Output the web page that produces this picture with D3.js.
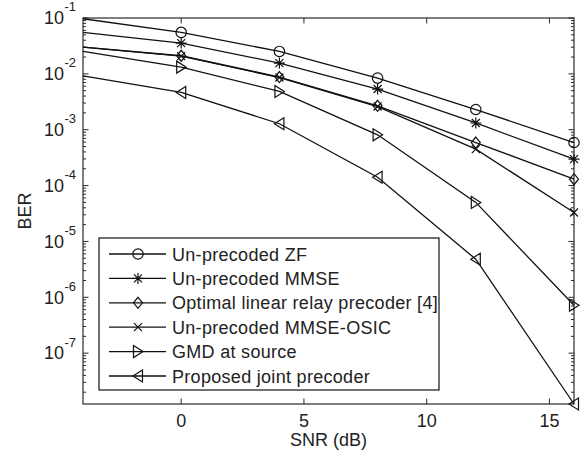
<!DOCTYPE html>
<html><head><meta charset="utf-8">
<script src="https://cdn.jsdelivr.net/npm/d3@7"></script>
<style>
html,body{margin:0;padding:0;background:#fff;}
svg{display:block;font-family:"Liberation Sans",Arial,Helvetica,sans-serif;}
</style></head>
<body><svg id="chart" width="584" height="456"></svg>
<script>
// ---- data ----
const snr = [-4, 0, 4, 8, 12, 16];
const markerSNR = [0, 4, 8, 12, 16];
const seriesNames = [
  "Un-precoded ZF",
  "Un-precoded MMSE",
  "Optimal linear relay precoder [4]",
  "Un-precoded MMSE-OSIC",
  "GMD at source",
  "Proposed joint precoder"
];
const seriesMarkers = ["circle", "star", "diamond", "cross", "triRight", "triLeft"];
const berZF      = [0.097, 0.0552, 0.0252, 0.0084, 0.0023, 5.9e-4];
const berMMSE    = [0.0552, 0.0356, 0.0156, 0.00535, 0.00132, 2.97e-4];
const berOptimal = [0.0302, 0.0211, 0.00877, 0.00268, 5.9e-4, 1.30e-4];
const berOSIC    = [0.0300, 0.0208, 0.00860, 0.00260, 4.5e-4, 3.3e-5];
const berGMD     = [0.0252, 0.0132, 0.00484, 8.1e-4, 5.0e-5, 7.2e-7];
const berJoint   = [0.0092, 0.00465, 0.00128, 1.41e-4, 4.8e-6, 1.23e-8];
const seriesValues = [berZF, berMMSE, berOptimal, berOSIC, berGMD, berJoint];
const xTicks = [0, 5, 10, 15];
const yTickExponents = [-1, -2, -3, -4, -5, -6, -7];
const xDomain = [-4, 16];
const yDomain = [1.23e-8, 0.1];

// ---- layout ----
const L = 83, R = 574, T = 18, B = 404;
const svg = d3.select("#chart");
const x = d3.scaleLinear().domain(xDomain).range([L, R]);
const y = d3.scaleLog().domain(yDomain).range([B, T]);
const ink = "#111";
const axisCol = "#2a2a2a";

// ticks
const g = svg.append("g");
xTicks.forEach(v => {
  const px = x(v);
  g.append("line").attr("x1", px).attr("x2", px).attr("y1", B).attr("y2", B - 5.5).attr("stroke", axisCol);
  g.append("line").attr("x1", px).attr("x2", px).attr("y1", T).attr("y2", T + 5.5).attr("stroke", axisCol);
  g.append("text").attr("x", px).attr("y", 427).attr("text-anchor", "middle")
    .attr("font-size", 18).attr("fill", "#222").text(v);
});
const yMajor = yTickExponents.map(e => Math.pow(10, e));
const yMinor = [];
for (let e = -9; e <= -2; e++) for (let m = 2; m <= 9; m++) {
  const v = m * Math.pow(10, e);
  if (v >= yDomain[0] && v <= yDomain[1]) yMinor.push(v);
}
yMajor.forEach(v => {
  const py = y(v);
  g.append("line").attr("x1", L).attr("x2", L + 5.5).attr("y1", py).attr("y2", py).attr("stroke", axisCol);
  g.append("line").attr("x1", R).attr("x2", R - 5.5).attr("y1", py).attr("y2", py).attr("stroke", axisCol);
});
yMinor.forEach(v => {
  const py = y(v);
  g.append("line").attr("x1", L).attr("x2", L + 3).attr("y1", py).attr("y2", py).attr("stroke", axisCol);
  g.append("line").attr("x1", R).attr("x2", R - 3).attr("y1", py).attr("y2", py).attr("stroke", axisCol);
});
yTickExponents.forEach(e => {
  const py = y(Math.pow(10, e));
  g.append("text").attr("x", 64).attr("y", py + 6.3).attr("text-anchor", "end")
    .attr("font-size", 18).attr("fill", "#222").text("10");
  g.append("text").attr("x", 64.5).attr("y", py - 6.6).attr("text-anchor", "start")
    .attr("font-size", 13).attr("fill", "#222").text(String(e));
});
svg.append("rect").attr("x", L).attr("y", T).attr("width", R - L).attr("height", B - T)
  .attr("fill", "none").attr("stroke", axisCol).attr("stroke-width", 1.2);

svg.append("text").attr("x", (L + R) / 2).attr("y", 446).attr("text-anchor", "middle")
  .attr("font-size", 18).attr("fill", "#222").text("SNR (dB)");
svg.append("text").attr("transform", `translate(31,${(T + B) / 2}) rotate(-90)`)
  .attr("text-anchor", "middle").attr("font-size", 18).attr("fill", "#222").text("BER");

function drawMarker(sel, type, cx, cy) {
  const a = sel.append("g").attr("transform", `translate(${cx},${cy})`)
    .attr("fill", "none").attr("stroke", ink).attr("stroke-width", 1.2);
  if (type === "circle") a.append("circle").attr("r", 5.2);
  else if (type === "star") {
    a.append("path").attr("d", "M0,-5.5V5.5M-5.5,0H5.5M-4,-4L4,4M-4,4L4,-4");
  } else if (type === "diamond") a.append("path").attr("d", "M0,-5.5L4.5,0L0,5.5L-4.5,0Z");
  else if (type === "cross") a.append("path").attr("d", "M-4,-4L4,4M-4,4L4,-4");
  else if (type === "triRight") a.append("path").attr("d", "M-4.5,-6L5,0L-4.5,6Z");
  else if (type === "triLeft") a.append("path").attr("d", "M4.5,-6L-5,0L4.5,6Z");
}

const line = d3.line().x(d => x(d[0])).y(d => y(d[1]));
seriesValues.forEach((vals, i) => {
  const pts = snr.map((s, j) => [s, vals[j]]);
  svg.append("path").datum(pts).attr("d", line).attr("fill", "none")
    .attr("stroke", ink).attr("stroke-width", 1.3);
});
seriesValues.forEach((vals, i) => {
  markerSNR.forEach(s => {
    const j = snr.indexOf(s);
    drawMarker(svg, seriesMarkers[i], x(s), y(vals[j]));
  });
});

const lg = svg.append("g");
lg.append("rect").attr("x", 99).attr("y", 238).attr("width", 340).attr("height", 152)
  .attr("fill", "#fff").attr("stroke", ink).attr("stroke-width", 1.2);
seriesNames.forEach((name, i) => {
  const cy = 254 + i * 24.4;
  lg.append("line").attr("x1", 109).attr("x2", 166).attr("y1", cy).attr("y2", cy)
    .attr("stroke", ink).attr("stroke-width", 1.3);
  drawMarker(lg, seriesMarkers[i], 138, cy);
  lg.append("text").attr("x", 172).attr("y", cy + 6.5).attr("font-size", 18)
    .attr("letter-spacing", 0.3).attr("fill", "#222").text(name);
});
</script>
</body></html>
